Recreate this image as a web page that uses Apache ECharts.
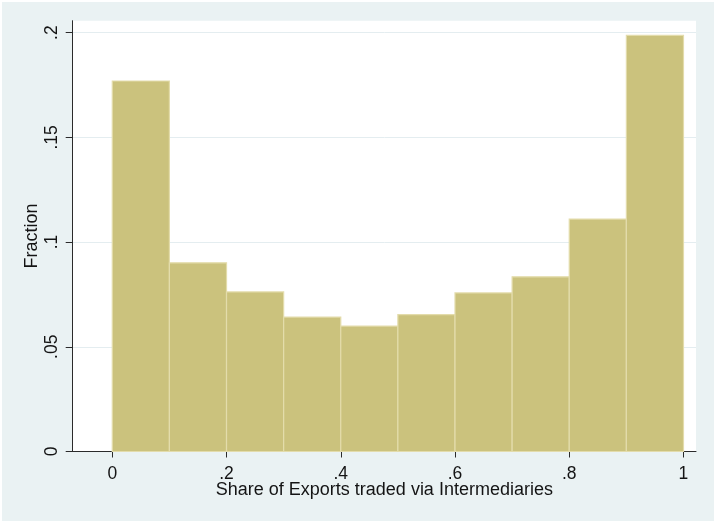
<!DOCTYPE html>
<html>
<head>
<meta charset="utf-8">
<script src="https://cdn.jsdelivr.net/npm/echarts@6/dist/echarts.min.js"></script>
<style>
  html, body { margin: 0; padding: 0; background: #ffffff; }
  #chart { position: absolute; left: 2px; top: 2px; width: 712px; height: 519px; }
</style>
</head>
<body>
<div id="chart"></div>
<script>
// Histogram bins (share of exports via intermediaries) and the fraction of firms in each
const binEdges = [0, 0.1, 0.2, 0.3, 0.4, 0.5, 0.6, 0.7, 0.8, 0.9, 1.0];
const fractions = [0.1769, 0.0901, 0.0762, 0.0642, 0.0599, 0.0654, 0.0757, 0.0834, 0.1110, 0.1987];

const xTickValues = [0, 0.2, 0.4, 0.6, 0.8, 1];
const xTickLabels = ['0', '.2', '.4', '.6', '.8', '1'];
const yTickValues = [0, 0.05, 0.1, 0.15, 0.2];
const yTickLabels = ['0', '.05', '.1', '.15', '.2'];

const xTitle = 'Share of Exports traded via Intermediaries';
const yTitle = 'Fraction';

const binData = fractions.map((f, i) => [binEdges[i], binEdges[i + 1], f]);

function labelFor(values, labels) {
  return function (v) {
    for (let i = 0; i < values.length; i++) {
      if (Math.abs(values[i] - v) < 1e-9) return labels[i];
    }
    return '';
  };
}

const font = '"Liberation Sans", Arial, sans-serif';
const textColor = '#141414';
const axisColor = '#2b2b2b';
const chart = echarts.init(document.getElementById('chart'), null, { renderer: 'canvas' });

chart.setOption({
  backgroundColor: '#EAF2F3',
  animation: false,
  grid: {
    left: 70.7, top: 18.7, right: 18, bottom: 69.5,
    show: true, backgroundColor: '#ffffff', borderWidth: 0
  },
  xAxis: {
    type: 'value',
    min: -0.0693, max: 1.0219,
    name: xTitle,
    nameLocation: 'middle',
    nameGap: 29.5,
    nameMoveOverlap: false,
    nameTextStyle: { fontFamily: font, fontSize: 18, color: textColor },
    axisLine: { show: true, onZero: false, lineStyle: { color: axisColor, width: 1 } },
    axisTick: { show: true, length: 6, customValues: xTickValues, lineStyle: { color: axisColor, width: 1 } },
    axisLabel: {
      customValues: xTickValues, margin: 13.5, fontFamily: font, fontSize: 17.5, color: textColor,
      formatter: labelFor(xTickValues, xTickLabels)
    },
    splitLine: { show: false }
  },
  yAxis: {
    type: 'value',
    min: 0, max: 0.2057,
    name: yTitle,
    nameLocation: 'middle',
    nameGap: 32,
    nameMoveOverlap: false,
    nameRotate: 90,
    nameTextStyle: { fontFamily: font, fontSize: 18, color: textColor },
    axisLine: { show: true, onZero: false, lineStyle: { color: axisColor, width: 1 } },
    axisTick: { show: true, length: 7, customValues: yTickValues, lineStyle: { color: axisColor, width: 1 } },
    axisLabel: {
      customValues: yTickValues, rotate: 90, margin: 12, fontFamily: font, fontSize: 17.5, color: textColor,
      formatter: labelFor(yTickValues, yTickLabels)
    },
    splitLine: { show: true, lineStyle: { color: '#E4EDF0', width: 1 } }
  },
  series: [{
    type: 'custom',
    data: binData,
    encode: { x: [0, 1], y: 2 },
    renderItem: function (params, api) {
      const topLeft = api.coord([api.value(0), api.value(2)]);
      const bottomRight = api.coord([api.value(1), 0]);
      return {
        type: 'rect',
        shape: {
          x: topLeft[0], y: topLeft[1],
          width: bottomRight[0] - topLeft[0],
          height: bottomRight[1] - topLeft[1]
        },
        style: { fill: '#CBC27D', stroke: '#E3DCAB', lineWidth: 1.2 }
      };
    }
  }]
});
</script>
</body>
</html>
